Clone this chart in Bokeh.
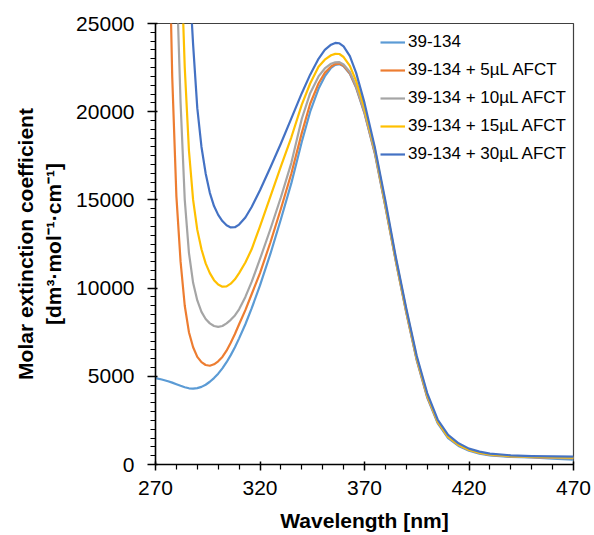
from bokeh.plotting import figure
from bokeh.models import Range1d, Legend, LegendItem, FixedTicker, SingleIntervalTicker
from bokeh.embed import file_html
from bokeh.resources import INLINE

wavelength = [270, 273, 276, 278, 280, 282, 284, 286, 288, 290, 292, 294, 296, 298, 300,
              302, 304, 306, 308, 310, 313, 316, 320, 325, 330, 335, 340, 344, 348, 351,
              354, 356, 358, 360, 363, 366, 370, 375, 380, 385, 390, 395, 400, 405, 410,
              415, 420, 425, 430, 440, 450, 460, 470]

eps_0uL = [4900, 4820, 4720, 4640, 4550, 4460, 4380, 4320, 4300, 4330, 4400, 4520, 4690, 4900, 5150,
           5450, 5800, 6200, 6650, 7150, 7950, 8850, 10150, 11950, 13900, 15950, 18300, 20000, 21300, 22000,
           22480, 22650, 22700, 22580, 22150, 21350, 19900, 17600, 14600, 11500, 8600, 5900, 3800, 2350, 1500,
           1050, 780, 620, 520, 430, 400, 330, 280]

eps_5uL = [70000, 50000, 33000, 22000, 15200, 11500, 9000, 7500, 6650, 6100, 5800, 5640, 5600, 5680, 5850,
           6100, 6450, 6900, 7400, 7950, 8750, 9650, 10850, 12600, 14500, 16500, 18800, 20450, 21600, 22200,
           22560, 22700, 22730, 22600, 22180, 21400, 19950, 17650, 14650, 11550, 8650, 5950, 3850, 2400, 1550,
           1100, 820, 650, 550, 460, 420, 380, 360]

eps_10uL = [90000, 70000, 50000, 38000, 28000, 20500, 15000, 12000, 10300, 9300, 8650, 8250, 8000, 7850, 7800,
            7850, 8000, 8200, 8450, 8800, 9500, 10350, 11650, 13350, 15150, 17100, 19600, 21050, 22000, 22450,
            22720, 22800, 22810, 22680, 22250, 21450, 20000, 17700, 14700, 11600, 8700, 6000, 3900, 2420, 1560,
            1100, 820, 650, 550, 460, 420, 390, 370]

eps_15uL = [100000, 80000, 60000, 48000, 38000, 29500, 22500, 17800, 15000, 13300, 12200, 11400, 10850, 10450, 10200,
            10080, 10100, 10250, 10500, 10850, 11450, 12200, 13500, 15200, 16900, 18550, 20400, 21600, 22550, 22950,
            23200, 23280, 23270, 23100, 22600, 21750, 20200, 17850, 14800, 11650, 8750, 6050, 3950, 2450, 1580,
            1120, 840, 670, 570, 480, 440, 410, 390]

eps_30uL = [120000, 100000, 80000, 65000, 52000, 41000, 33000, 28000, 23800, 20200, 18000, 16500, 15400, 14650, 14150,
            13800, 13560, 13440, 13450, 13600, 14000, 14600, 15550, 16850, 18200, 19620, 21050, 22100, 23000, 23500,
            23800, 23900, 23880, 23700, 23150, 22200, 20500, 17950, 14950, 11750, 8850, 6150, 4050, 2550, 1680,
            1200, 900, 730, 620, 520, 480, 460, 450]

series_labels = ["39-134", "39-134 + 5\u00b5L AFCT", "39-134 + 10\u00b5L AFCT",
                 "39-134 + 15\u00b5L AFCT", "39-134 + 30\u00b5L AFCT"]
series_values = [eps_0uL, eps_5uL, eps_10uL, eps_15uL, eps_30uL]
series_colors = ["#5B9BD5", "#ED7D31", "#A5A5A5", "#FFC000", "#4472C4"]

x_major = [270, 320, 370, 420, 470]

FONT = "Liberation Sans"

p = figure(frame_width=418, frame_height=441, output_backend="svg", toolbar_location=None,
           x_range=Range1d(270, 470), y_range=Range1d(0, 25000),
           min_border_left=155, min_border_right=21, min_border_top=23, min_border_bottom=71,
           background_fill_color="white", border_fill_color="white")

p.xgrid.visible = False
p.ygrid.visible = False
p.outline_line_color = "#404040"
p.outline_line_width = 1.2

items = []
for lab, vals, col in zip(series_labels, series_values, series_colors):
    r = p.line(wavelength, vals, line_color=col, line_width=2.2, line_join="round")
    items.append(LegendItem(label=lab, renderers=[r]))

legend = Legend(items=items, location=(225, 300), padding=0, margin=0, spacing=8,
                glyph_width=25, glyph_height=20, label_height=20, label_standoff=3,
                label_text_font=FONT, label_text_font_size="17px", label_text_color="black",
                border_line_alpha=0, background_fill_alpha=0)
p.add_layout(legend)

minor_x = [v for v in range(270, 471, 10) if v not in x_major]
p.xaxis.ticker = FixedTicker(ticks=x_major, minor_ticks=minor_x)
p.yaxis.ticker = SingleIntervalTicker(interval=5000, num_minor_ticks=10)

for ax in (p.xaxis[0], p.yaxis[0]):
    ax.axis_line_color = "black"
    ax.axis_line_width = 1.5
    ax.major_tick_line_color = "black"
    ax.minor_tick_line_color = "black"
    ax.major_tick_line_width = 1.5
    ax.minor_tick_line_width = 1.2
    ax.major_label_text_font = FONT
    ax.major_label_text_font_size = "21px"
    ax.major_label_text_color = "black"
    ax.axis_label_text_font = FONT
    ax.axis_label_text_font_size = "21px"
    ax.axis_label_text_font_style = "bold"
    ax.axis_label_text_color = "black"

p.xaxis.major_tick_in = 3
p.xaxis.major_tick_out = 6
p.xaxis.minor_tick_in = 0
p.xaxis.minor_tick_out = 5
p.xaxis.major_label_standoff = 10
p.xaxis.axis_label = "Wavelength [nm]"
p.xaxis.axis_label_standoff = 11

p.yaxis.major_tick_in = 2
p.yaxis.major_tick_out = 8
p.yaxis.minor_tick_in = 0
p.yaxis.minor_tick_out = 5
p.yaxis.major_label_standoff = 13
p.yaxis.axis_label = "Molar extinction coefficient\n[dm\u00b3\u00b7mol\u207b\u00b9\u00b7cm\u207b\u00b9]"
p.yaxis.axis_label_standoff = 8

open("out.html", "w").write(file_html(p, INLINE))
